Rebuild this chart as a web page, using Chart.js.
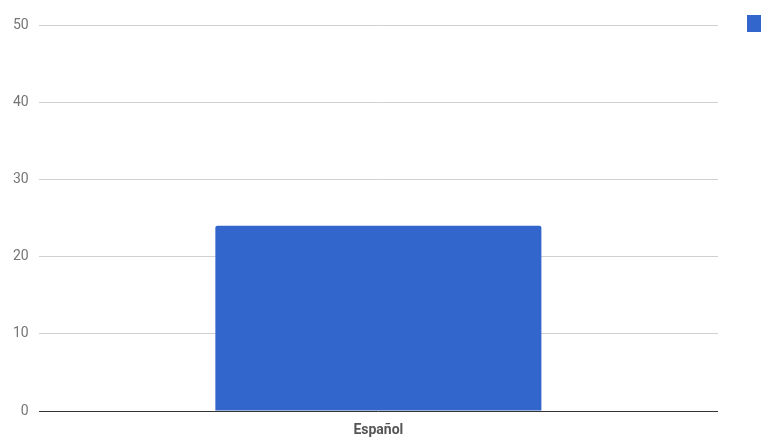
<!DOCTYPE html>
<html>
<head>
<meta charset="utf-8">
<script src="https://cdn.jsdelivr.net/npm/chart.js@4.4.1/dist/chart.umd.min.js"></script>
<style>
  html, body { margin: 0; padding: 0; background: #fff; overflow: hidden; }
  #wrap { width: 761px; height: 439px; overflow: hidden; }
</style>
</head>
<body>
<div id="wrap"><canvas id="grafico" width="827" height="439"></canvas></div>
<script>
const categorias = ['Español'];
const valores = [24];
const nomeSerie = 'Respuestas';
const ticksY = [0, 10, 20, 30, 40, 50];

const ctx = document.getElementById('grafico').getContext('2d');

new Chart(ctx, {
    type: 'bar',
    data: {
        labels: categorias,
        datasets: [{
            label: nomeSerie,
            data: valores,
            backgroundColor: '#3366CC',
            borderRadius: { topLeft: 2, topRight: 2 },
            borderSkipped: 'start',
            categoryPercentage: 1,
            barPercentage: 0.48
        }]
    },
    options: {
        responsive: false,
        animation: false,
        devicePixelRatio: 1,
        layout: { padding: { top: 15, left: 3, bottom: 0, right: 0 } },
        plugins: {
            tooltip: { enabled: false },
            legend: {
                position: 'right',
                align: 'start',
                maxWidth: 80,
                labels: {
                    boxWidth: 17,
                    boxHeight: 17,
                    padding: 0,
                    color: '#222',
                    font: { family: 'Roboto', size: 14 }
                }
            }
        },
        scales: {
            x: {
                grid: { display: false, drawTicks: false },
                border: { display: false },
                ticks: {
                    padding: 11,
                    color: '#555',
                    font: { family: 'Roboto', size: 14, weight: 'bold' }
                },
                afterFit: scale => { scale.height = 28; }
            },
            y: {
                min: ticksY[0],
                max: ticksY[ticksY.length - 1],
                afterBuildTicks: scale => { scale.ticks = ticksY.map(v => ({ value: v })); },
                afterFit: scale => { scale.paddingTop = 25; scale.paddingBottom = 0; },
                grid: {
                    drawTicks: false,
                    color: c => c.tick && c.tick.value === 0 ? '#333' : '#d0d0d0',
                    lineWidth: 1
                },
                border: { display: false },
                ticks: {
                    padding: 10,
                    color: '#757575',
                    font: { family: 'Roboto', size: 14 }
                }
            },
            lado: {
                position: 'right',
                display: true,
                grid: { display: false },
                border: { display: false },
                ticks: { display: false },
                afterFit: scale => { scale.width = 29; scale.paddingTop = 0; scale.paddingBottom = 0; }
            }
        }
    }
});
</script>
</body>
</html>
